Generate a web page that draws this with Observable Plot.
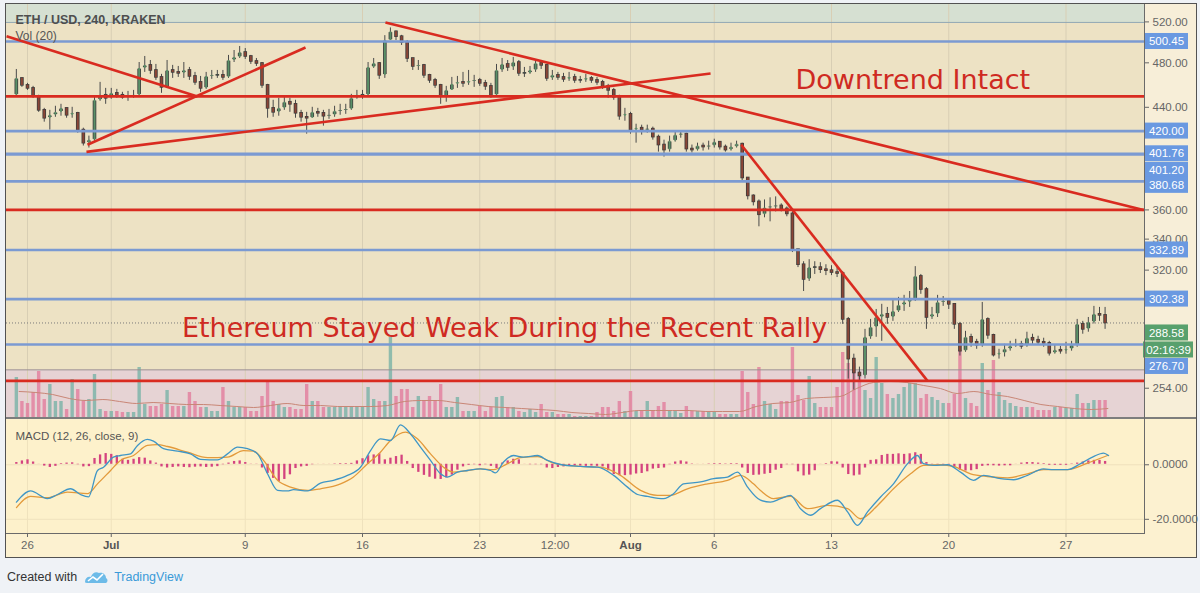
<!DOCTYPE html>
<html><head><meta charset="utf-8">
<script src="https://cdn.jsdelivr.net/npm/d3@7"></script>
<script src="https://cdn.jsdelivr.net/npm/@observablehq/plot@0.6"></script>
<style>
html,body{margin:0;padding:0;background:#eff2f6;width:1200px;height:593px;overflow:hidden;font-family:"Liberation Sans",Arial,sans-serif;}
#frame{position:absolute;left:5px;top:3px;width:1192px;height:555px;border:1px solid #525252;background:#fcf1d0;box-sizing:border-box;}
#axcol{position:absolute;left:1145px;top:4px;width:51px;height:414px;background:#f7eed8;}
#chart{position:absolute;left:0;top:0;width:1200px;height:593px;}
.ln{position:absolute;background:#6a6a6a;}
#footer{position:absolute;left:7px;top:568px;height:18px;font-size:12.5px;color:#333;display:flex;align-items:center;}
#footer span{color:#3a9ad8;margin-left:6px;}
</style></head><body>
<div id="frame"></div>
<div id="axcol"></div>
<div id="chart"></div>
<div class="ln" style="left:6px;top:417px;width:1190px;height:2px;background:#7d7d7d"></div>
<div class="ln" style="left:1144px;top:4px;width:1px;height:529px"></div>
<div class="ln" style="left:6px;top:533px;width:1139px;height:1px"></div>
<div id="footer">Created with&nbsp;&nbsp;<svg width="24" height="14" viewBox="0 0 24 14"><path d="M1 12 C1 8 4 6 7 7 C8 3 12 1 15 3 C18 2 22 4 22 8 C24 9 24 12 22 13 L3 13 C1 13 1 12 1 12 Z" fill="#6dbbe8"/><path d="M4 11 L9 7 L13 10 L19 4" stroke="#fff" stroke-width="1.6" fill="none"/></svg><span>TradingView</span></div>
<script>
// ---------- time base ----------
const origin = Date.UTC(2018, 5, 25); // 25 Jun 2018 00:00 UTC
const DAY = 864e5;
const at = t => new Date(origin + t * DAY);

// ---------- 8-hour candles (ETH/USD, Kraken) ----------
const firstOpen = 450.5;
const closes = [
465.6,459.3,456.6,449.6,437.4,430.7,433.2,435.7,439.1,433.2,
434.9,420.8,410.2,412.6,446.1,450.5,447.8,452.2,450.5,448.7,
449.6,450.5,474.8,477.6,472.9,466.5,457.5,472.9,471.1,470.2,
472.9,467.4,462.0,456.6,467.4,468.4,468.4,466.5,482.2,485.1,
489.8,486.0,481.3,479.4,459.3,439.1,435.7,439.1,444.4,442.6,
434.9,431.5,430.7,435.7,434.9,432.4,433.2,436.6,437.4,438.2,
447.8,450.5,450.5,475.7,479.4,468.4,501.4,510.0,505.2,499.5,
484.1,476.6,477.6,468.4,463.8,459.3,449.6,454.8,460.2,462.0,
461.1,462.9,463.8,461.1,458.4,450.5,472.9,478.5,475.7,480.3,
470.2,470.2,472.9,479.4,477.6,465.6,468.4,466.5,464.7,466.5,
463.8,463.8,465.6,463.8,462.0,458.4,454.8,448.7,432.4,434.0,
420.8,422.4,420.8,421.6,415.1,408.7,404.7,411.8,416.7,417.5,
405.5,404.7,407.9,407.1,407.9,411.0,407.1,404.7,407.1,409.4,
383.2,370.0,365.7,356.6,361.4,362.1,362.8,360.7,357.2,333.1,
323.4,314.2,321.6,321.6,320.3,319.7,318.5,317.9,290.6,268.9,
261.7,260.1,280.6,286.1,291.7,293.5,291.7,295.2,298.7,300.4,
302.2,316.1,308.1,291.7,293.5,300.4,301.0,299.3,287.8,273.1,
280.6,277.9,276.3,290.6,281.7,271.0,272.0,274.1,275.7,276.8,
275.7,280.1,279.0,277.9,277.3,272.0,273.6,273.1,274.1,276.3,
287.8,285.0,288.9,293.5,292.9,288.58];
const highs = [
473.8,463.8,461.1,458.4,450.5,439.1,437.4,440.9,442.6,439.1,
440.0,435.7,422.4,415.9,449.6,462.0,456.6,456.6,455.7,453.1,
453.9,454.8,480.3,486.0,482.2,478.5,469.3,482.2,477.6,476.6,
480.3,475.7,471.1,467.4,471.1,472.9,472.9,472.9,487.0,491.7,
495.6,493.6,487.0,484.1,480.3,460.2,446.1,447.8,448.7,447.8,
446.1,437.4,435.7,440.0,439.1,437.4,438.2,440.9,442.6,442.6,
451.3,454.8,454.8,480.3,484.1,480.3,506.2,513.9,510.9,506.5,
501.4,484.1,482.2,478.5,469.3,465.6,460.2,458.4,466.5,467.4,
471.1,472.9,468.4,465.6,463.8,461.1,478.5,484.1,482.2,485.1,
482.2,475.7,476.6,482.2,482.2,478.5,472.9,471.1,470.2,471.1,
469.3,467.4,469.3,467.4,466.5,463.8,460.2,456.6,450.5,439.1,
435.7,425.7,424.9,424.9,423.3,416.7,412.6,415.9,420.0,420.0,
418.3,408.7,410.2,410.2,411.8,413.4,411.0,408.7,410.2,411.8,
410.2,383.2,370.8,367.1,367.1,368.6,369.3,364.3,362.1,358.6,
333.1,325.3,326.6,325.3,324.7,323.4,322.8,321.6,319.1,291.7,
271.5,264.7,285.0,290.6,296.3,299.3,297.5,302.2,303.4,304.6,
306.9,322.2,317.3,309.3,297.5,304.6,303.9,302.2,299.3,288.9,
283.9,282.3,279.5,300.4,291.5,282.3,274.1,276.8,278.4,279.5,
278.4,283.4,282.3,281.2,280.1,278.4,276.3,275.7,277.9,278.4,
290.6,289.5,291.7,298.1,297.5,297.5];
const lows = [
449.6,457.5,454.8,447.8,435.7,427.4,420.8,431.5,432.4,430.7,
430.7,418.3,407.9,406.3,411.8,445.2,442.6,447.0,447.8,447.0,
445.2,447.8,449.6,471.1,469.3,463.8,452.2,456.6,465.6,466.5,
465.6,463.8,459.3,453.1,455.7,464.7,465.6,463.8,465.6,480.3,
484.1,483.2,478.5,476.6,456.6,430.7,431.5,432.4,437.4,435.7,
430.7,427.4,417.5,430.7,431.5,424.1,429.8,431.5,433.2,434.0,
437.4,447.0,447.0,449.6,474.8,464.7,465.6,501.4,501.4,496.6,
480.3,472.9,472.9,465.6,461.1,456.6,442.6,444.4,454.8,456.6,
457.5,459.3,457.5,458.4,454.8,447.8,449.6,471.1,472.0,472.9,
467.4,466.5,469.3,471.1,473.8,462.9,463.8,463.8,462.0,462.9,
461.1,461.1,462.0,461.1,459.3,455.7,447.8,446.1,429.0,428.2,
417.5,410.2,416.7,418.3,412.6,403.1,399.2,403.1,411.0,414.2,
403.1,402.4,403.9,403.9,404.7,406.3,404.7,403.1,403.9,406.3,
380.2,367.1,362.8,348.3,354.5,351.7,358.6,358.6,355.2,331.2,
321.6,306.9,313.0,317.3,317.9,316.6,316.6,315.4,287.8,258.6,
253.1,257.6,258.6,279.5,280.6,278.4,287.8,289.5,294.6,295.2,
297.5,301.0,305.2,285.0,290.6,291.7,298.1,296.3,285.0,270.5,
272.5,275.2,274.1,275.2,279.5,270.0,268.9,270.0,273.1,275.2,
274.1,275.2,276.8,276.3,275.2,270.5,271.5,271.5,271.5,273.1,
275.2,282.3,283.4,288.0,289.5,285.0];
// volume (relative units) per candle
const volumes = [
41,17,15,26,47,19,34,17,17,9, 39,29,17,19,44,9,7,7,7,6,
6,6,51,14,12,12,14,28,12,12, 12,26,17,11,11,7,7,31,17,11,
11,11,7,7,22,36,17,14,11,11, 9,9,34,17,17,11,11,11,11,11,
12,12,12,31,19,17,17,81,22,29, 29,11,22,17,22,17,34,11,11,21,
7,7,7,12,7,11,21,22,11,11, 7,6,9,6,14,6,6,4,4,4,
2,2,2,2,6,11,11,7,17,7, 27,7,7,17,7,12,16,7,7,5,
12,7,7,7,7,7,4,4,4,4, 47,26,14,51,17,14,9,17,17,71,
23,18,42,15,11,11,11,31,66,55, 55,41,28,20,61,35,24,20,24,31,
35,35,20,24,21,18,15,15,24,68, 20,15,12,55,28,58,26,18,15,12,
11,11,11,8,8,8,11,11,10,10, 24,15,15,18,18,18];
// Vol MA(20), one value per day from 25 Jun 12:00
const volMA = [27,26,24,20,18,19,17,15,16,15,14,14,13,12,11,13,15,13,13,12,
12,12,13,17,18,18,16,14,12,11,10,9,8,6,5,4,6,8,8,8,
8,7,7,7,12,15,16,20,21,22,30,36,37,36,33,30,25,27,24,22,18,14,12,10,9,10];
// MACD histogram per candle
const macdHist = [
1.0,1.6,2.0,1.2,0.4,-0.3,-0.8,-0.4,0.6,0.8, 0.9,0.2,-0.6,-0.5,2.5,3.8,4.3,4.0,3.5,2.2,
1.8,2.2,2.8,2.6,1.6,0.8,-0.6,-1.0,-0.8,-0.6, -0.8,-0.9,-0.7,-0.6,-0.8,-0.7,-0.5,0.2,0.8,1.4,
1.6,1.0,0.3,0.3,-1.0,-3.0,-4.8,-6.0,-5.2,-3.5, -1.2,-0.6,-0.4,0.2,0.4,0.4,0.4,0.5,0.6,0.6,
0.7,1.6,2.4,3.5,3.8,4.2,2.0,2.6,3.2,3.7, 1.4,-1.2,-2.6,-3.7,-4.4,-5.1,-5.2,-4.6,-3.6,-1.8,
-0.6,0,0.2,-0.2,0.2,-0.4,-1.2,0.8,1.6,2.2, 2.0,0.4,0.2,0.2,0.2,-1.0,-1.2,-0.8,-0.6,-0.4,
-0.3,-0.3,-0.4,-0.3,-0.4,-0.6,-2.0,-3.4,-3.8,-3.8, -3.6,-3.2,-3.0,-2.4,-1.4,-1.2,-1.0,0.2,1.2,1.6,
1.2,0.5,0.4,0.4,0.5,0.6,0.6,0.5,0.6,0.6, -1.0,-3.0,-3.7,-3.6,-3.3,-3.0,-1.8,-1.2,0.2,0.2,
-2.4,-3.9,-3.6,-2.0,0.4,0.6,1.3,1.2,-1.0,-3.4, -3.9,-3.6,-1.0,1.8,2.0,3.6,4.0,4.0,4.2,4.0,
4.2,4.6,4.0,1.0,0.2,0,0,0.1,-0.8,-1.8, -2.1,-2.0,-1.6,-0.4,-0.2,-0.2,-0.3,-0.2,-0.2,0.4,
0.8,1.0,1.0,0.8,0.6,0,0,0,0,0.5, 0.8,1.2,1.6,1.8,1.8,1.4];
// MACD line (days since 25 Jun, value)
const macdT = [0.34,1.18,2.19,2.79,3.57,4.16,4.64,5.18,5.54,6.13,6.55,7.15,7.57,8.16,8.52,9.12,9.96,10.73,11.33,12.34,
12.94,13.54,14.13,14.73,15.33,15.93,16.52,16.88,17.72,18.49,19.27,20.10,20.88,21.48,22.07,22.67,23.27,23.87,24.46,25.06,
25.66,26.07,26.67,27.27,28.04,28.64,28.94,29.42,30.01,30.61,31.45,32.04,32.82,34.01,35.03,35.99,36.82,37.42,38.01,38.97,
39.57,40.16,41.18,41.96,42.79,43.39,43.99,44.76,45.36,45.96,46.55,47.15,47.75,48.34,49.36,49.96,50.55,51.15,51.93,52.70,
53.54,54.13,54.49,55.09,55.93,56.70,57.48,58.07,59.09,59.87,60.70,61.66,62.25,63.09,63.87,64.64,65.24,65.54];
const macdV = [-13.7,-9.6,-12.4,-10.9,-8.8,-10.9,-11.8,-2.1,-0.9,2.8,3.4,4.0,7.1,9.3,8.7,5.9,5.0,4.0,2.0,1.8,
4.0,6.5,5.9,4.0,-3.3,-9.4,-9.6,-9.1,-9.6,-6.7,-5.7,-3.9,-0.9,5.2,9.5,8.9,14.6,11.3,6.5,1.6,
-3.3,-4.5,-2.7,-2.1,-1.5,-2.1,-3.0,1.0,3.4,2.8,3.4,1.6,0.1,-0.6,-0.9,-3.9,-8.2,-10.9,-11.6,-12.4,
-10.6,-7.0,-6.3,-5.1,-4.5,-2.7,-8.2,-13.0,-13.7,-12.4,-11.2,-16.1,-18.5,-16.1,-13.0,-17.3,-22.2,-17.3,-11.8,-7.0,
0.4,3.4,0.4,-0.2,0,-2.7,-5.7,-3.9,-5.1,-5.5,-3.9,-1.5,-1.8,-1.8,0.4,3.0,4.3,3.4];
// Signal line
const signalT = [0.34,1.18,2.19,3.39,4.58,5.18,5.96,6.55,7.33,8.16,8.76,9.36,10.55,11.75,12.94,13.90,14.49,15.09,15.93,16.70,
17.72,18.49,19.69,20.46,21.30,22.07,22.67,23.57,24.28,25.06,25.84,26.43,27.27,28.04,28.82,29.66,30.43,31.45,32.40,34.01,
35.21,36.40,37.60,38.61,39.39,40.40,41.60,42.79,43.57,44.34,44.76,45.54,46.55,47.57,48.76,49.96,50.73,51.75,52.70,53.72,
54.49,55.51,56.28,57.30,58.31,59.51,60.70,61.66,63.09,64.28,65.48];
const signalV = [-15.7,-11.6,-12.1,-10.0,-10.6,-7.0,-2.1,1.6,3.4,7.1,7.4,6.7,4.6,2.6,2.8,5.2,5.0,1.6,-5.7,-8.2,
-9.4,-8.8,-7.0,-4.5,0.4,4.6,8.9,12.0,9.5,4.0,-0.9,-2.7,-2.1,-1.5,-1.8,0.4,2.6,3.0,0.6,-0.6,
-0.9,-3.9,-9.4,-11.2,-11.2,-8.8,-7.0,-5.7,-3.9,-7.0,-9.4,-12.4,-11.6,-16.1,-14.9,-16.1,-19.8,-14.9,-8.8,-3.3,
-0.2,0,-0.6,-3.3,-4.3,-4.8,-3.3,-1.8,-1.8,0.6,3.4];

// ---------- drawings ----------
const blueLevels = [500.45, 420.00, 401.76, 401.20, 380.68, 332.89, 302.38, 276.70];
const redLevels = [449.5, 360.0, 257.7];
const bandEdges = [263.3, 519.5];
const lastPrice = 288.58;
const countdown = "02:16:39";
// trend lines: [days since 25 Jun, price] -> [days, price]
const tlT1 = [-0.25, 4.58, 4.52, 22.37, 43.61];
const tlP1 = [505.6, 408.9, 403.3, 519.4, 408.9];
const tlT2 = [11.15, 17.60, 41.78, 67.63, 54.73];
const tlP2 = [449.4, 494.6, 470.1, 360.0, 257.7];
const annoText = ["Downtrend Intact", "Ethereum Stayed Weak During the Recent Rally"];
const annoT = [46.85, 10.22];
const annoP = [456.2, 281.0];

// ---------- axes ----------
const priceTicks = [520, 480, 440, 360, 340, 320, 254];
const macdTicks = [0, -20];
const tickDates = ["2018-06-26T00:00Z","2018-07-01T00:00Z","2018-07-09T00:00Z","2018-07-16T00:00Z","2018-07-23T00:00Z",
  "2018-07-27T12:00Z","2018-08-01T00:00Z","2018-08-06T00:00Z","2018-08-13T00:00Z","2018-08-20T00:00Z","2018-08-27T00:00Z"];
const tickLabels = ["26","Jul","9","16","23","12:00","Aug","6","13","20","27"];
const boldLabels = ["Jul","Aug"];

// ---------- build ----------
const candles = closes.map((c, i) => {
  const open = i === 0 ? firstOpen : closes[i - 1];
  return {date: at((1 + i) / 3), open, close: c, high: highs[i], low: lows[i], vol: volumes[i], hist: macdHist[i], up: c >= open};
});
const volMaData = volMA.map((v, d) => ({date: at(0.5 + d), v}));
const macdData = macdT.map((t, i) => ({date: at(t), v: macdV[i]}));
const signalData = signalT.map((t, i) => ({date: at(t), v: signalV[i]}));
const ticks = tickDates.map(s => new Date(s));
const labelOf = new Map(ticks.map((d, i) => [+d, tickLabels[i]]));
const normalTicks = ticks.filter((d, i) => !boldLabels.includes(tickLabels[i]));
const boldTicks = ticks.filter((d, i) => boldLabels.includes(tickLabels[i]));
const trendIdx = d3.range(tlT1.length);
const annoIdx = d3.range(annoText.length);

const xDomain = [at(-0.2537), at(67.686)];
const priceDomain = [239.4, 538];
const FONT = "'Liberation Sans', Arial, sans-serif";
const baseStyle = {background: "transparent", overflow: "visible", fontFamily: FONT, fontSize: "11.5px", color: "#5b5b5b"};
const common = {width: 1200, marginLeft: 6, marginRight: 56, x: {type: "utc", domain: xDomain, axis: null}, style: baseStyle};
const priceFrame = {height: 420, marginTop: 4, marginBottom: 2};

const RED = "#d92b20", BLUE = "#7b9ad2", UPC = "#5a9068", DNC = "#8a4536";
const labelDy = [0, 0, 0, 16, 4, 0, 0, 22];

function add(el) {
  el.style.position = "absolute"; el.style.left = "0px"; el.style.top = "0px";
  document.getElementById("chart").appendChild(el);
}

// layer 1: background bands + grid
add(Plot.plot({...common, ...priceFrame,
  y: {type: "log", domain: priceDomain, axis: null},
  marks: [
    Plot.rect([0], {y1: () => priceDomain[0], y2: () => bandEdges[0], fill: "#e6d3d4"}),
    Plot.rect([0], {y1: () => bandEdges[0], y2: () => bandEdges[1], fill: "#ede2c4"}),
    Plot.rect([0], {y1: () => bandEdges[1], y2: () => priceDomain[1], fill: "#d6e0d2"}),
    Plot.ruleX(ticks, {stroke: "#d8ceb4", strokeWidth: 1})
  ]}));

// layer 2: volume
add(Plot.plot({...common, ...priceFrame,
  y: {domain: [0, 100], range: [418, 318], axis: null},
  color: {type: "identity"},
  marks: [
    Plot.ruleX(candles, {x: "date", y1: 0, y2: "vol", stroke: d => d.up ? "#78b3a6" : "#e27d9c", strokeWidth: 3.4, strokeOpacity: 0.8}),
    Plot.line(volMaData, {x: "date", y: "v", stroke: "#c98676", strokeWidth: 1, curve: "monotone-x"})
  ]}));

// layer 3: price, drawings, labels
const labelMarks = [];
blueLevels.forEach((v, i) => {
  labelMarks.push(Plot.rect([v], {y1: d => d, y2: d => d, fill: "#6a99e1", insetLeft: 1139, insetRight: -44, insetTop: -8, insetBottom: -8, dy: labelDy[i]}));
  labelMarks.push(Plot.text([v], {y: d => d, text: d => d.toFixed(2), frameAnchor: "right", dx: 22, dy: labelDy[i], fill: "white", textAnchor: "middle", fontSize: 11.5}));
});
labelMarks.push(Plot.rect([lastPrice], {y1: d => d, y2: d => d, fill: "#58a06d", insetLeft: 1139, insetRight: -44, insetTop: -8, insetBottom: -8, dy: 10}));
labelMarks.push(Plot.text([lastPrice], {y: d => d, text: d => d.toFixed(2), frameAnchor: "right", dx: 22, dy: 10, fill: "white", textAnchor: "middle", fontSize: 11.5}));
labelMarks.push(Plot.rect([lastPrice], {y1: d => d, y2: d => d, fill: "#58a06d", insetLeft: 1137, insetRight: -49, insetTop: -8, insetBottom: -8, dy: 27}));
labelMarks.push(Plot.text([lastPrice], {y: d => d, text: () => countdown, frameAnchor: "right", dx: 24, dy: 27, fill: "white", textAnchor: "middle", fontSize: 11.5}));

add(Plot.plot({...common, ...priceFrame,
  y: {type: "log", domain: priceDomain, axis: null},
  color: {type: "identity"},
  marks: [
    Plot.ruleY([bandEdges[1]], {stroke: "#8ea6b4", strokeWidth: 1}),
    Plot.ruleY([bandEdges[0]], {stroke: "#9a9090", strokeWidth: 1}),
    Plot.ruleY([lastPrice], {stroke: "#7a7a7a", strokeWidth: 1, strokeDasharray: "1,2"}),
    Plot.ruleX(candles, {x: "date", y1: "low", y2: "high", stroke: "#4a4a4a", strokeWidth: 1}),
    Plot.ruleX(candles, {x: "date", y1: "open", y2: "close", stroke: "#3c3c3c", strokeWidth: 3.6, insetTop: -0.8, insetBottom: -0.8}),
    Plot.ruleX(candles, {x: "date", y1: "open", y2: "close", stroke: d => d.up ? UPC : DNC, strokeWidth: 2.0, insetTop: -0.1, insetBottom: -0.1}),
    Plot.ruleY(blueLevels, {stroke: BLUE, strokeWidth: 2.6}),
    Plot.ruleY(redLevels, {stroke: RED, strokeWidth: 2.6}),
    Plot.link(trendIdx, {x1: i => at(tlT1[i]), y1: i => tlP1[i], x2: i => at(tlT2[i]), y2: i => tlP2[i], stroke: RED, strokeWidth: 2.6}),
    Plot.text(annoIdx, {x: i => at(annoT[i]), y: i => annoP[i], text: i => annoText[i], textAnchor: "start", lineAnchor: "bottom", fill: "#cf2a22", fontFamily: "'DejaVu Sans', sans-serif", fontSize: 27}),
    Plot.text(["ETH / USD, 240, KRAKEN"], {text: d => d, frameAnchor: "top-left", dx: 9, dy: 15, textAnchor: "start", lineAnchor: "middle", fill: "#4e4e4e", fontWeight: "bold", fontSize: 12.5}),
    Plot.text(["Vol (20)"], {text: d => d, frameAnchor: "top-left", dx: 9, dy: 32, textAnchor: "start", lineAnchor: "middle", fill: "#555", fontSize: 12}),
    Plot.axisY(priceTicks, {anchor: "right", tickFormat: d => d.toFixed(2), tickSize: 4, tickPadding: 4, stroke: "#666", fill: "#666"}),
    ...labelMarks
  ]}));

// layer 4: MACD pane + time axis
add(Plot.plot({...common, height: 560, marginTop: 419, marginBottom: 27,
  y: {domain: [-25.2, 16.6], axis: null},
  marks: [
    Plot.frame({fill: "#fdf1cb", stroke: "none"}),
    Plot.ruleX(ticks, {stroke: "#efe2bd", strokeWidth: 1}),
    Plot.ruleY(macdTicks, {stroke: "#efe2bd", strokeWidth: 1}),
    Plot.ruleX(candles, {x: "date", y1: 0, y2: "hist", stroke: "#d4437f", strokeWidth: 2.3, insetTop: -0.5, insetBottom: -0.5}),
    Plot.line(signalData, {x: "date", y: "v", stroke: "#e39a3b", strokeWidth: 1.3, curve: "monotone-x"}),
    Plot.line(macdData, {x: "date", y: "v", stroke: "#3f96c6", strokeWidth: 1.3, curve: "monotone-x"}),
    Plot.text(["MACD (12, 26, close, 9)"], {text: d => d, frameAnchor: "top-left", dx: 9, dy: 17, textAnchor: "start", lineAnchor: "middle", fill: "#555", fontSize: 11.5}),
    Plot.axisY(macdTicks, {anchor: "right", tickFormat: d => d.toFixed(4), tickSize: 4, tickPadding: 4, stroke: "#666", fill: "#666"}),
    Plot.axisX(normalTicks, {anchor: "bottom", tickFormat: d => labelOf.get(+d), tickSize: 4, tickPadding: 3, stroke: "#666", fill: "#666"}),
    Plot.axisX(boldTicks, {anchor: "bottom", tickFormat: d => labelOf.get(+d), tickSize: 4, tickPadding: 3, stroke: "#666", fill: "#555", fontWeight: "bold"})
  ]}));
</script>
</body></html>
